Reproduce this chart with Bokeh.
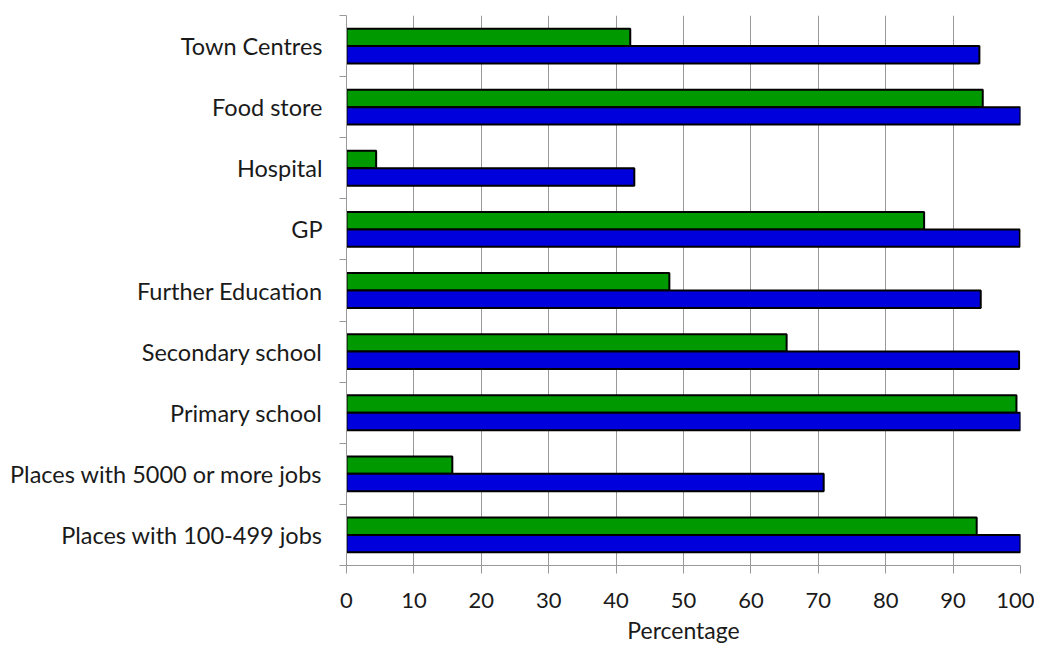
from bokeh.plotting import figure
from bokeh.models import FixedTicker, ColumnDataSource, Range1d
from bokeh.embed import file_html
from bokeh.resources import INLINE

categories = ["Town Centres", "Food store", "Hospital", "GP", "Further Education",
              "Secondary school", "Primary school", "Places with 5000 or more jobs",
              "Places with 100-499 jobs"]
green_values = [42.1, 94.4, 4.4, 85.7, 47.9, 65.3, 99.4, 15.7, 93.5]
blue_values = [93.9, 100.0, 42.7, 99.9, 94.1, 99.8, 100.0, 70.8, 100.0]
x_ticks = [0, 10, 20, 30, 40, 50, 60, 70, 80, 90, 100]

n = len(categories)
centers = [n - i - 0.5 for i in range(n)]
bar_h = 0.285

src_g = ColumnDataSource(dict(y=[c + bar_h / 2 for c in centers], right=green_values))
src_b = ColumnDataSource(dict(y=[c - bar_h / 2 for c in centers], right=blue_values))

p = figure(width=1034, height=647, output_backend="svg", toolbar_location=None,
           x_range=Range1d(0, 100), y_range=Range1d(0, n),
           min_border_left=346, min_border_right=14, min_border_top=15, min_border_bottom=82)
p.outline_line_color = None
p.background_fill_color = "white"

p.hbar(y="y", left=0, right="right", height=bar_h, source=src_g,
       fill_color="#009900", line_color="black", line_width=2)
p.hbar(y="y", left=0, right="right", height=bar_h, source=src_b,
       fill_color="#0000DD", line_color="black", line_width=2)

# x axis
p.xaxis.ticker = FixedTicker(ticks=x_ticks, minor_ticks=[])
p.xaxis.axis_label = "Percentage"
p.xaxis.axis_label_text_font = "Lato"
p.xaxis.axis_label_text_font_style = "normal"
p.xaxis.axis_label_text_font_size = "23px"
p.xaxis.axis_label_text_color = "#1a1a1a"
p.xaxis.axis_label_standoff = 5
p.xaxis.major_label_text_font = "Lato"
p.xaxis.major_label_text_font_size = "22px"
p.xaxis.major_label_text_color = "#1a1a1a"
p.xaxis.major_label_standoff = 19
p.xaxis.axis_line_color = "#999999"
p.xaxis.major_tick_line_color = "#999999"
p.xaxis.major_tick_out = 8
p.xaxis.major_tick_in = 0
p.xaxis.minor_tick_line_color = None

# y axis
boundaries = [float(i) for i in range(n + 1)]
p.yaxis.ticker = FixedTicker(ticks=centers, minor_ticks=boundaries)
p.yaxis.major_label_overrides = {c: categories[i] for i, c in enumerate(centers)}
p.yaxis.major_label_text_font = "Lato"
p.yaxis.major_label_text_font_size = "23.5px"
p.yaxis.major_label_text_color = "#1a1a1a"
p.yaxis.major_label_standoff = 17
p.yaxis.major_tick_line_color = None
p.yaxis.minor_tick_line_color = "#999999"
p.yaxis.minor_tick_out = 7
p.yaxis.minor_tick_in = 0
p.yaxis.axis_line_color = "#999999"

p.xgrid.ticker = FixedTicker(ticks=x_ticks)
p.xgrid.grid_line_color = "#999999"
p.ygrid.grid_line_color = None

open("out.html", "w").write(file_html(p, INLINE))
